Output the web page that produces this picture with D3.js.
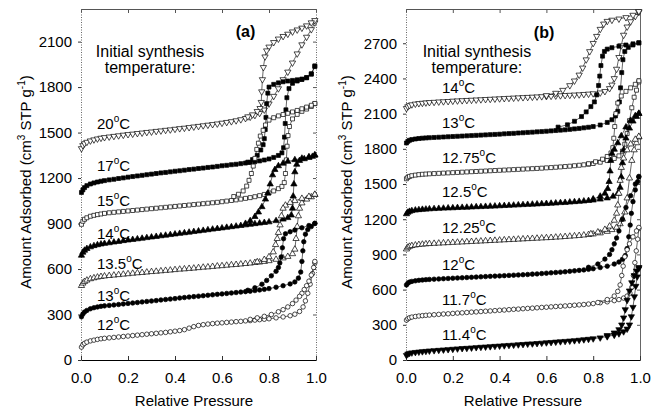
<!DOCTYPE html>
<html>
<head>
<meta charset="utf-8">
<script src="https://cdn.jsdelivr.net/npm/d3@7"></script>
<style>
body{margin:0;background:#fff}
text{font-family:Arial,"Liberation Sans",sans-serif;fill:#000}
</style>
</head>
<body>
<svg id="chart" width="651" height="412"></svg>
<script>
// ticks
var xTicks = [0, 0.2, 0.4, 0.6, 0.8, 1.0];
var yTicksA = [0, 300, 600, 900, 1200, 1500, 1800, 2100];
var yTicksB = [0, 300, 600, 900, 1200, 1500, 1800, 2100, 2400, 2700];

// panel (a) isotherms, [relative pressure, amount adsorbed]
var a20Ads = [[0.002,1395],[0.008,1415],[0.015,1428],[0.025,1437],[0.04,1446],[0.055,1453],[0.07,1459],[0.085,1464],[0.10,1468],[0.12,1472],[0.14,1476],[0.16,1480],[0.18,1484],[0.20,1488],[0.22,1491],[0.24,1495],[0.26,1498],[0.28,1502],[0.30,1505],[0.32,1509],[0.34,1512],[0.36,1516],[0.38,1519],[0.40,1523],[0.42,1527],[0.44,1530],[0.46,1534],[0.48,1538],[0.50,1542],[0.52,1546],[0.54,1550],[0.56,1554],[0.58,1558],[0.60,1563],[0.62,1568],[0.64,1573],[0.66,1579],[0.68,1586],[0.70,1594],[0.72,1603],[0.74,1614],[0.76,1628],[0.78,1650],[0.80,1690],[0.82,1740],[0.84,1790],[0.86,1850],[0.88,1900],[0.90,1960],[0.92,2020],[0.94,2080],[0.96,2130],[0.98,2180],[0.995,2225]];
var a20Des = [[0.995,2240],[0.98,2225],[0.96,2205],[0.94,2190],[0.92,2178],[0.90,2165],[0.88,2150],[0.86,2135],[0.84,2118],[0.82,2095],[0.80,2065],[0.79,2040],[0.783,2000],[0.776,1930],[0.772,1850],[0.769,1770],[0.767,1700],[0.762,1660],[0.75,1640],[0.73,1618],[0.71,1605]];
var a17Ads = [[0.002,1105],[0.008,1122],[0.015,1137],[0.025,1150],[0.04,1161],[0.055,1168],[0.07,1174],[0.085,1179],[0.10,1183],[0.12,1188],[0.14,1192],[0.16,1197],[0.18,1201],[0.20,1206],[0.22,1210],[0.24,1214],[0.26,1218],[0.28,1222],[0.30,1226],[0.32,1230],[0.34,1234],[0.36,1237],[0.38,1241],[0.40,1245],[0.42,1248],[0.44,1252],[0.46,1256],[0.48,1259],[0.50,1263],[0.52,1266],[0.54,1270],[0.56,1273],[0.58,1277],[0.60,1281],[0.62,1284],[0.64,1288],[0.66,1291],[0.68,1295],[0.70,1299],[0.72,1303],[0.74,1308],[0.76,1313],[0.78,1319],[0.80,1326],[0.82,1336],[0.84,1349],[0.855,1366],[0.862,1400],[0.866,1470],[0.869,1560],[0.872,1650],[0.876,1730],[0.885,1790],[0.90,1825],[0.92,1840],[0.94,1850],[0.96,1862],[0.98,1888],[0.995,1935]];
var a17Des = [[0.995,1940],[0.98,1885],[0.96,1862],[0.94,1853],[0.92,1848],[0.90,1844],[0.88,1840],[0.86,1835],[0.84,1828],[0.82,1818],[0.80,1800],[0.795,1760],[0.79,1690],[0.787,1600],[0.784,1520],[0.78,1460],[0.775,1420],[0.765,1385],[0.75,1350],[0.73,1322],[0.71,1305]];
var a15Ads = [[0.002,895],[0.008,915],[0.015,928],[0.025,938],[0.04,948],[0.055,954],[0.07,959],[0.085,963],[0.10,967],[0.12,971],[0.14,974],[0.16,977],[0.18,980],[0.20,983],[0.22,986],[0.24,989],[0.26,992],[0.28,995],[0.30,998],[0.32,1001],[0.34,1004],[0.36,1007],[0.38,1010],[0.40,1013],[0.42,1016],[0.44,1019],[0.46,1022],[0.48,1025],[0.50,1028],[0.52,1031],[0.54,1034],[0.56,1037],[0.58,1040],[0.60,1044],[0.62,1048],[0.64,1052],[0.66,1056],[0.68,1061],[0.70,1066],[0.72,1071],[0.74,1077],[0.76,1084],[0.78,1092],[0.80,1102],[0.82,1115],[0.84,1130],[0.855,1145],[0.865,1170],[0.870,1230],[0.874,1320],[0.877,1410],[0.881,1480],[0.887,1540],[0.90,1590],[0.92,1620],[0.94,1640],[0.96,1655],[0.98,1672],[0.995,1690]];
var a15Des = [[0.995,1692],[0.98,1680],[0.96,1668],[0.94,1657],[0.92,1646],[0.90,1636],[0.88,1627],[0.86,1619],[0.84,1610],[0.82,1598],[0.80,1582],[0.785,1550],[0.775,1515],[0.763,1477],[0.755,1430],[0.748,1389],[0.74,1330],[0.733,1279],[0.725,1230],[0.715,1185],[0.705,1147],[0.69,1115],[0.67,1093],[0.65,1078]];
var a14Ads = [[0.002,690],[0.008,710],[0.015,723],[0.025,734],[0.04,745],[0.055,753],[0.07,759],[0.085,764],[0.10,768],[0.12,772],[0.14,777],[0.16,781],[0.18,786],[0.20,790],[0.22,794],[0.24,798],[0.26,802],[0.28,806],[0.30,810],[0.32,814],[0.34,818],[0.36,822],[0.38,826],[0.40,830],[0.42,834],[0.44,838],[0.46,842],[0.48,846],[0.50,850],[0.52,854],[0.54,858],[0.56,862],[0.58,866],[0.60,870],[0.62,874],[0.64,878],[0.66,882],[0.68,886],[0.70,890],[0.72,894],[0.74,898],[0.76,902],[0.78,906],[0.80,910],[0.83,918],[0.86,928],[0.88,938],[0.895,955],[0.90,1000],[0.903,1080],[0.906,1160],[0.91,1240],[0.918,1290],[0.93,1315],[0.95,1326],[0.97,1335],[0.985,1342],[0.995,1350]];
var a14Des = [[0.995,1352],[0.97,1340],[0.94,1330],[0.91,1320],[0.88,1309],[0.86,1297],[0.84,1280],[0.825,1255],[0.815,1220],[0.805,1160],[0.795,1100],[0.785,1060],[0.77,1010],[0.755,975],[0.74,945],[0.72,918],[0.70,900]];
var a135Ads = [[0.002,490],[0.008,506],[0.015,517],[0.025,526],[0.04,535],[0.055,541],[0.07,546],[0.085,550],[0.10,553],[0.12,556],[0.14,559],[0.16,562],[0.18,565],[0.20,568],[0.22,571],[0.24,574],[0.26,576],[0.28,579],[0.30,582],[0.32,584],[0.34,587],[0.36,590],[0.38,592],[0.40,595],[0.42,598],[0.44,600],[0.46,603],[0.48,605],[0.50,608],[0.52,611],[0.54,613],[0.56,616],[0.58,619],[0.60,621],[0.62,624],[0.64,627],[0.66,629],[0.68,632],[0.70,635],[0.72,638],[0.74,642],[0.76,645],[0.78,649],[0.80,654],[0.83,663],[0.86,672],[0.88,682],[0.90,700],[0.91,730],[0.915,800],[0.92,880],[0.925,950],[0.93,1000],[0.94,1035],[0.96,1060],[0.98,1075],[0.995,1090]];
var a135Des = [[0.995,1092],[0.97,1078],[0.94,1065],[0.91,1050],[0.89,1038],[0.87,1020],[0.86,1000],[0.853,950],[0.847,890],[0.84,840],[0.835,800],[0.828,760],[0.818,712],[0.80,680],[0.78,662],[0.75,647]];
var a13Ads = [[0.002,285],[0.008,303],[0.015,316],[0.025,327],[0.04,338],[0.055,345],[0.07,350],[0.085,354],[0.10,357],[0.12,360],[0.14,363],[0.16,366],[0.18,370],[0.20,373],[0.22,376],[0.24,379],[0.26,383],[0.28,386],[0.30,389],[0.32,392],[0.34,396],[0.36,399],[0.38,402],[0.40,405],[0.42,409],[0.44,412],[0.46,415],[0.48,418],[0.50,421],[0.52,424],[0.54,427],[0.56,430],[0.58,433],[0.60,436],[0.62,439],[0.64,442],[0.66,445],[0.68,448],[0.70,451],[0.72,454],[0.74,458],[0.76,462],[0.78,466],[0.80,471],[0.83,480],[0.86,490],[0.89,502],[0.91,515],[0.925,540],[0.935,580],[0.94,650],[0.944,720],[0.948,780],[0.955,830],[0.965,860],[0.98,880],[0.995,900]];
var a13Des = [[0.995,902],[0.97,887],[0.94,872],[0.91,857],[0.89,846],[0.87,832],[0.862,800],[0.857,740],[0.852,680],[0.846,640],[0.84,610],[0.83,585],[0.81,555],[0.79,525],[0.77,500],[0.74,476],[0.71,460]];
var a12Ads = [[0.002,85],[0.008,100],[0.015,110],[0.025,118],[0.04,126],[0.055,131],[0.07,136],[0.085,140],[0.10,143],[0.12,146],[0.14,149],[0.16,152],[0.18,155],[0.20,158],[0.22,161],[0.24,164],[0.26,167],[0.28,170],[0.30,173],[0.32,176],[0.34,179],[0.36,182],[0.38,186],[0.40,190],[0.42,194],[0.44,200],[0.46,210],[0.48,220],[0.50,228],[0.52,233],[0.54,237],[0.56,240],[0.58,243],[0.60,245],[0.62,248],[0.64,250],[0.66,253],[0.68,255],[0.70,258],[0.72,260],[0.74,263],[0.76,266],[0.78,269],[0.80,272],[0.83,278],[0.86,284],[0.89,292],[0.91,302],[0.93,320],[0.945,350],[0.955,390],[0.965,440],[0.975,500],[0.985,570],[0.995,640]];
var a12Des = [[0.995,650],[0.99,610],[0.98,560],[0.97,520],[0.96,490],[0.95,465],[0.94,440],[0.93,420],[0.915,395],[0.90,372],[0.88,350],[0.86,332],[0.84,318],[0.81,300],[0.78,288],[0.75,278],[0.72,268]];

// panel (b) isotherms
var b14Ads = [[0.002,2145],[0.008,2160],[0.015,2170],[0.025,2177],[0.04,2183],[0.055,2187],[0.07,2190],[0.085,2193],[0.10,2196],[0.12,2198],[0.14,2201],[0.16,2203],[0.18,2205],[0.20,2208],[0.22,2210],[0.24,2212],[0.26,2214],[0.28,2216],[0.30,2218],[0.32,2220],[0.34,2222],[0.36,2224],[0.38,2226],[0.40,2228],[0.42,2230],[0.44,2232],[0.46,2234],[0.48,2236],[0.50,2238],[0.52,2240],[0.54,2242],[0.56,2244],[0.58,2246],[0.60,2248],[0.62,2250],[0.64,2252],[0.66,2254],[0.68,2256],[0.70,2258],[0.72,2260],[0.74,2262],[0.76,2265],[0.78,2268],[0.80,2271],[0.83,2278],[0.85,2290],[0.87,2315],[0.88,2345],[0.89,2400],[0.90,2480],[0.91,2580],[0.92,2680],[0.93,2770],[0.945,2840],[0.96,2885],[0.98,2930],[0.995,2965]];
var b14Des = [[0.995,2972],[0.97,2940],[0.94,2920],[0.91,2908],[0.88,2898],[0.86,2888],[0.845,2865],[0.83,2820],[0.815,2760],[0.80,2700],[0.785,2630],[0.77,2560],[0.755,2490],[0.74,2430],[0.72,2380],[0.70,2340],[0.67,2300],[0.64,2275],[0.60,2255]];
var b13Ads = [[0.002,1850],[0.008,1864],[0.015,1873],[0.025,1879],[0.04,1884],[0.055,1888],[0.07,1891],[0.085,1893],[0.10,1895],[0.12,1897],[0.14,1899],[0.16,1901],[0.18,1903],[0.20,1905],[0.22,1907],[0.24,1909],[0.26,1911],[0.28,1913],[0.30,1915],[0.32,1917],[0.34,1919],[0.36,1921],[0.38,1923],[0.40,1925],[0.42,1928],[0.44,1930],[0.46,1932],[0.48,1935],[0.50,1937],[0.52,1940],[0.54,1942],[0.56,1945],[0.58,1947],[0.60,1950],[0.62,1953],[0.64,1956],[0.66,1959],[0.68,1962],[0.70,1966],[0.72,1970],[0.74,1974],[0.76,1979],[0.78,1984],[0.80,1990],[0.83,2003],[0.86,2025],[0.88,2048],[0.895,2080],[0.905,2120],[0.912,2200],[0.917,2320],[0.922,2450],[0.927,2560],[0.935,2630],[0.95,2665],[0.97,2685],[0.995,2702]];
var b13Des = [[0.995,2705],[0.97,2695],[0.94,2685],[0.91,2675],[0.88,2662],[0.86,2650],[0.848,2630],[0.84,2590],[0.833,2510],[0.828,2420],[0.823,2340],[0.815,2260],[0.805,2200],[0.79,2160],[0.77,2115],[0.75,2075],[0.72,2035],[0.69,2005],[0.65,1985]];
var b1275Ads = [[0.002,1545],[0.008,1557],[0.015,1565],[0.025,1571],[0.04,1576],[0.055,1580],[0.07,1583],[0.085,1585],[0.10,1587],[0.12,1589],[0.14,1591],[0.16,1593],[0.18,1595],[0.20,1597],[0.22,1599],[0.24,1601],[0.26,1603],[0.28,1605],[0.30,1607],[0.32,1609],[0.34,1611],[0.36,1613],[0.38,1615],[0.40,1617],[0.42,1619],[0.44,1621],[0.46,1623],[0.48,1625],[0.50,1627],[0.52,1629],[0.54,1631],[0.56,1633],[0.58,1635],[0.60,1638],[0.62,1640],[0.64,1643],[0.66,1646],[0.68,1649],[0.70,1652],[0.72,1656],[0.74,1660],[0.76,1664],[0.78,1669],[0.80,1675],[0.83,1686],[0.86,1700],[0.89,1718],[0.91,1740],[0.925,1780],[0.935,1840],[0.945,1930],[0.955,2040],[0.965,2150],[0.975,2240],[0.985,2300],[0.995,2370]];
var b1275Des = [[0.995,2380],[0.98,2350],[0.96,2320],[0.94,2290],[0.92,2250],[0.905,2190],[0.897,2100],[0.892,1990],[0.888,1890],[0.884,1810],[0.876,1765],[0.86,1735],[0.84,1712],[0.81,1690],[0.78,1673]];
var b125Ads = [[0.002,1245],[0.008,1258],[0.015,1266],[0.025,1272],[0.04,1277],[0.055,1280],[0.07,1283],[0.085,1285],[0.10,1287],[0.12,1289],[0.14,1291],[0.16,1293],[0.18,1295],[0.20,1296],[0.22,1298],[0.24,1300],[0.26,1301],[0.28,1303],[0.30,1305],[0.32,1306],[0.34,1308],[0.36,1310],[0.38,1311],[0.40,1313],[0.42,1315],[0.44,1317],[0.46,1319],[0.48,1321],[0.50,1323],[0.52,1325],[0.54,1327],[0.56,1329],[0.58,1331],[0.60,1333],[0.62,1335],[0.64,1337],[0.66,1340],[0.68,1342],[0.70,1345],[0.72,1348],[0.74,1351],[0.76,1354],[0.78,1358],[0.80,1362],[0.83,1370],[0.86,1380],[0.885,1395],[0.905,1420],[0.915,1470],[0.92,1560],[0.925,1680],[0.93,1790],[0.94,1890],[0.955,1975],[0.97,2035],[0.985,2075],[0.995,2100]];
var b125Des = [[0.995,2102],[0.98,2082],[0.96,2042],[0.94,1985],[0.92,1910],[0.905,1850],[0.89,1795],[0.88,1760],[0.875,1700],[0.872,1610],[0.868,1520],[0.862,1460],[0.85,1420],[0.83,1395],[0.80,1372]];
var b1225Ads = [[0.002,945],[0.008,960],[0.015,968],[0.025,974],[0.04,979],[0.055,983],[0.07,986],[0.085,989],[0.10,991],[0.12,993],[0.14,995],[0.16,997],[0.18,999],[0.20,1001],[0.22,1003],[0.24,1005],[0.26,1007],[0.28,1009],[0.30,1011],[0.32,1013],[0.34,1015],[0.36,1017],[0.38,1019],[0.40,1021],[0.42,1023],[0.44,1025],[0.46,1027],[0.48,1029],[0.50,1031],[0.52,1033],[0.54,1035],[0.56,1037],[0.58,1039],[0.60,1041],[0.62,1043],[0.64,1046],[0.66,1048],[0.68,1051],[0.70,1054],[0.72,1057],[0.74,1060],[0.76,1064],[0.78,1068],[0.80,1073],[0.83,1082],[0.86,1095],[0.88,1110],[0.90,1130],[0.915,1160],[0.925,1200],[0.935,1260],[0.945,1380],[0.955,1550],[0.965,1700],[0.975,1790],[0.985,1850],[0.995,1900]];
var b1225Des = [[0.995,1905],[0.98,1880],[0.96,1840],[0.945,1790],[0.93,1720],[0.92,1640],[0.915,1530],[0.91,1420],[0.905,1320],[0.90,1250],[0.89,1190],[0.87,1140],[0.85,1112],[0.82,1090],[0.79,1075]];
var b12Ads = [[0.002,640],[0.008,655],[0.015,664],[0.025,670],[0.04,675],[0.055,679],[0.07,682],[0.085,685],[0.10,687],[0.12,689],[0.14,691],[0.16,693],[0.18,695],[0.20,697],[0.22,699],[0.24,701],[0.26,703],[0.28,705],[0.30,707],[0.32,709],[0.34,711],[0.36,713],[0.38,715],[0.40,717],[0.42,719],[0.44,721],[0.46,723],[0.48,725],[0.50,727],[0.52,729],[0.54,732],[0.56,734],[0.58,737],[0.60,740],[0.62,743],[0.64,746],[0.66,749],[0.68,752],[0.70,756],[0.72,760],[0.74,764],[0.76,768],[0.78,773],[0.80,778],[0.83,788],[0.86,800],[0.89,818],[0.91,835],[0.925,858],[0.937,890],[0.945,950],[0.952,1050],[0.958,1150],[0.963,1250],[0.97,1350],[0.98,1450],[0.99,1520],[0.995,1560]];
var b12Des = [[0.995,1565],[0.98,1500],[0.96,1400],[0.94,1300],[0.925,1200],[0.91,1100],[0.90,1040],[0.89,990],[0.88,940],[0.87,900],[0.85,860],[0.82,818],[0.78,790]];
var b117Ads = [[0.002,340],[0.008,352],[0.015,360],[0.025,366],[0.04,371],[0.055,375],[0.07,378],[0.085,381],[0.10,383],[0.12,386],[0.14,389],[0.16,392],[0.18,394],[0.20,397],[0.22,400],[0.24,402],[0.26,405],[0.28,408],[0.30,410],[0.32,413],[0.34,416],[0.36,418],[0.38,421],[0.40,424],[0.42,426],[0.44,429],[0.46,432],[0.48,434],[0.50,437],[0.52,440],[0.54,442],[0.56,445],[0.58,448],[0.60,450],[0.62,453],[0.64,456],[0.66,458],[0.68,461],[0.70,464],[0.72,467],[0.74,470],[0.76,473],[0.78,477],[0.80,481],[0.83,488],[0.86,496],[0.89,506],[0.91,515],[0.93,528],[0.945,545],[0.957,570],[0.965,620],[0.972,720],[0.978,830],[0.984,930],[0.99,1030],[0.995,1120]];
var b117Des = [[0.995,1130],[0.985,1100],[0.97,1050],[0.955,990],[0.945,940],[0.935,880],[0.928,800],[0.922,720],[0.915,640],[0.905,585],[0.89,545],[0.86,515],[0.82,490]];
var b114Ads = [[0.002,40],[0.008,52],[0.015,58],[0.025,62],[0.04,66],[0.055,69],[0.07,72],[0.085,75],[0.10,78],[0.12,81],[0.14,84],[0.16,87],[0.18,90],[0.20,93],[0.22,96],[0.24,99],[0.26,101],[0.28,104],[0.30,107],[0.32,110],[0.34,112],[0.36,115],[0.38,118],[0.40,120],[0.42,123],[0.44,126],[0.46,128],[0.48,131],[0.50,134],[0.52,137],[0.54,139],[0.56,142],[0.58,145],[0.60,148],[0.62,151],[0.64,154],[0.66,157],[0.68,160],[0.70,163],[0.72,166],[0.74,170],[0.76,174],[0.78,178],[0.80,182],[0.83,190],[0.86,200],[0.89,213],[0.91,225],[0.93,242],[0.945,265],[0.955,300],[0.963,370],[0.97,450],[0.976,540],[0.982,630],[0.988,710],[0.995,780]];
var b114Des = [[0.995,790],[0.985,760],[0.975,720],[0.965,660],[0.955,590],[0.945,510],[0.937,430],[0.93,360],[0.922,300],[0.91,260],[0.89,232],[0.86,210]];

// series tables built from the arrays
var seriesA = [
  {t:"20", sym:"down", fill:false, ads:a20Ads, des:a20Des},
  {t:"17", sym:"square", fill:true, ads:a17Ads, des:a17Des},
  {t:"15", sym:"square", fill:false, ads:a15Ads, des:a15Des},
  {t:"14", sym:"up", fill:true, ads:a14Ads, des:a14Des},
  {t:"13.5", sym:"up", fill:false, ads:a135Ads, des:a135Des},
  {t:"13", sym:"circle", fill:true, ads:a13Ads, des:a13Des},
  {t:"12", sym:"circle", fill:false, ads:a12Ads, des:a12Des}
];
var seriesB = [
  {t:"14", sym:"down", fill:false, ads:b14Ads, des:b14Des},
  {t:"13", sym:"square", fill:true, ads:b13Ads, des:b13Des},
  {t:"12.75", sym:"square", fill:false, ads:b1275Ads, des:b1275Des},
  {t:"12.5", sym:"up", fill:true, ads:b125Ads, des:b125Des},
  {t:"12.25", sym:"up", fill:false, ads:b1225Ads, des:b1225Des},
  {t:"12", sym:"circle", fill:true, ads:b12Ads, des:b12Des},
  {t:"11.7", sym:"circle", fill:false, ads:b117Ads, des:b117Des},
  {t:"11.4", sym:"down", fill:true, ads:b114Ads, des:b114Des}
];

// label anchor points in data units
var labelPosA = [[0.068,1525],[0.068,1249],[0.068,1018],[0.068,795],[0.068,597],[0.068,386],[0.068,196]];
var labelPosB = [[0.154,2276],[0.154,1978],[0.154,1678],[0.154,1388],[0.154,1081],[0.154,765],[0.154,467],[0.154,168]];

var svg = d3.select("#chart");

var symbolFor = {
  circle: d3.symbol().type(d3.symbolCircle).size(16),
  square: d3.symbol().type(d3.symbolSquare).size(16),
  up: d3.symbol().type(d3.symbolTriangle).size(17),
  down: d3.symbol().type(d3.symbolTriangle).size(17)
};

function drawPanel(cfg) {
  var x = d3.scaleLinear().domain([0, 1]).range([cfg.left, cfg.right]);
  var y = d3.scaleLinear().domain([0, cfg.ymax]).range([cfg.bottom, cfg.top]);
  var g = svg.append("g");

  // frame: top and right with inward ticks
  var top = g.append("g").attr("transform", "translate(0," + cfg.top + ")")
    .call(d3.axisTop(x).tickValues(xTicks).tickSizeInner(-4).tickSizeOuter(0).tickFormat(""));
  top.select(".domain").attr("stroke", "#555");
  top.selectAll(".tick line").attr("stroke", "#555");

  var right = g.append("g").attr("transform", "translate(" + cfg.right + ",0)")
    .call(d3.axisRight(y).tickValues(cfg.yTicks).tickSizeInner(-3).tickSizeOuter(0).tickFormat(""));
  right.select(".domain").attr("stroke", "#666").attr("stroke-dasharray", cfg.rightDash);
  right.selectAll(".tick line").attr("stroke", "#555");

  var left = g.append("g").attr("transform", "translate(" + cfg.left + ",0)")
    .call(d3.axisLeft(y).tickValues(cfg.yTicks).tickSizeInner(3).tickSizeOuter(0).tickPadding(cfg.yPad).tickFormat(d3.format("d")));
  left.select(".domain").attr("stroke", "#666").attr("stroke-dasharray", "1,1.5");
  left.selectAll(".tick line").attr("stroke", "#333");
  left.selectAll("text").style("font-size", "15px").style("font-family", "Arial, 'Liberation Sans', sans-serif").attr("fill", "#000");

  var bottom = g.append("g").attr("transform", "translate(0," + cfg.bottom + ")")
    .call(d3.axisBottom(x).tickValues(xTicks).tickSizeInner(-4).tickSizeOuter(0).tickPadding(12).tickFormat(d3.format(".1f")));
  bottom.select(".domain").attr("stroke", "#000");
  bottom.selectAll(".tick line").attr("stroke", "#333");
  bottom.selectAll("text").style("font-size", "15px").style("font-family", "Arial, 'Liberation Sans', sans-serif").attr("fill", "#000");

  // isotherms
  var line = d3.line().x(function(d){return x(d[0])}).y(function(d){return y(d[1])});
  cfg.series.forEach(function(s) {
    [s.ads, s.des].forEach(function(branch) {
      g.append("path").datum(branch).attr("d", line)
        .attr("fill", "none").attr("stroke", "#000").attr("stroke-width", 0.6);
      g.selectAll(null).data(branch).enter().append("path")
        .attr("d", symbolFor[s.sym])
        .attr("transform", function(d){
          return "translate(" + x(d[0]) + "," + y(d[1]) + ")" + (s.sym == "down" ? " rotate(180)" : "");
        })
        .attr("fill", s.fill ? "#000" : "#fff")
        .attr("stroke", "#000").attr("stroke-width", 0.7);
    });
  });

  // temperature labels
  cfg.series.forEach(function(s, i) {
    var p = cfg.labelPos[i];
    var t = g.append("text").attr("x", x(p[0])).attr("y", y(p[1])).style("font-size", "15px");
    t.append("tspan").text(s.t);
    t.append("tspan").text("o").attr("dy", -7).style("font-size", "10px");
    t.append("tspan").text("C").attr("dy", 7);
  });

  g.append("text").attr("x", x(cfg.headX)).attr("y", y(cfg.headY[0]))
    .attr("text-anchor", "middle").style("font-size", "16px").text("Initial synthesis");
  g.append("text").attr("x", x(cfg.headX)).attr("y", y(cfg.headY[1]))
    .attr("text-anchor", "middle").style("font-size", "16px").text("temperature:");
  g.append("text").attr("x", x(cfg.tagPos[0])).attr("y", y(cfg.tagPos[1]))
    .attr("text-anchor", "middle").style("font-size", "16px").style("font-weight", "bold").text(cfg.tag);

  // axis titles
  g.append("text").attr("x", cfg.xTitleX).attr("y", 406).attr("text-anchor", "middle")
    .style("font-size", "15px").text("Relative Pressure");

  var yt = g.append("text").attr("transform", "translate(" + cfg.yTitleX + ",182) rotate(-90)")
    .attr("text-anchor", "middle").style("font-size", "15px");
  yt.append("tspan").text("Amount Adsorbed (cm");
  yt.append("tspan").text("3").attr("dy", -6).style("font-size", "10px");
  yt.append("tspan").text(" STP g").attr("dy", 6);
  yt.append("tspan").text("-1").attr("dy", -6).style("font-size", "10px");
  yt.append("tspan").text(")").attr("dy", 6);
}

drawPanel({left:81, right:316, top:9, bottom:360, ymax:2315, yTicks:yTicksA, yPad:6,
  rightDash:"1,1.5", series:seriesA, labelPos:labelPosA,
  headX:0.294, headY:[1998,1893], tag:"(a)", tagPos:[0.70,2131],
  xTitleX:194, yTitleX:31});
drawPanel({left:406, right:640, top:9, bottom:360, ymax:2992, yTicks:yTicksB, yPad:6,
  rightDash:null, series:seriesB, labelPos:labelPosB,
  headX:0.303, headY:[2583,2446], tag:"(b)", tagPos:[0.59,2745],
  xTitleX:523, yTitleX:352});
</script>
</body>
</html>
